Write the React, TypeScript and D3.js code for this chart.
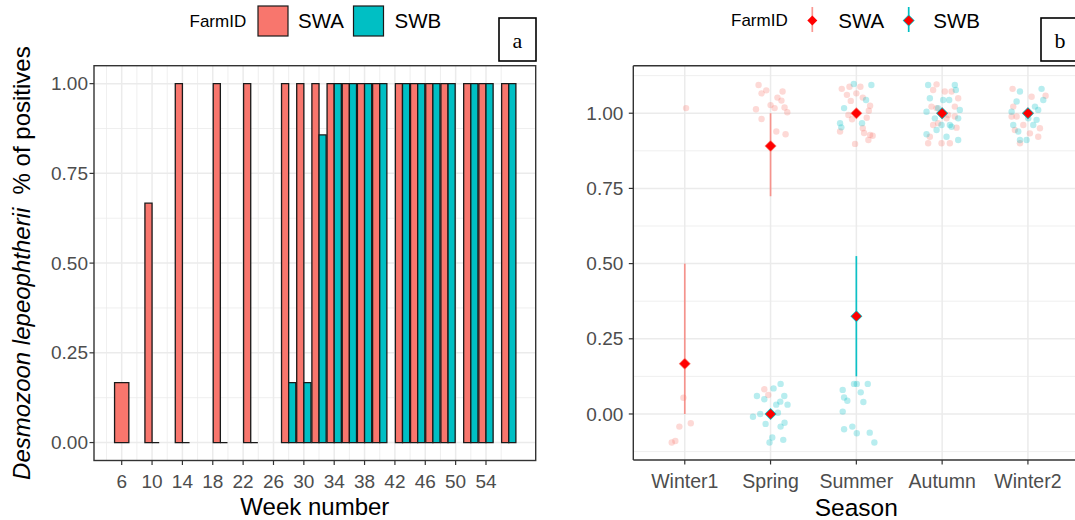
import * as d3 from "d3";

// ---- panel a: proportion positive per week
const weeks = [6, 10, 14, 19, 23, 28, 30, 32, 34, 36, 38, 40, 43, 45, 47, 49, 52, 54, 57];
const swaShare = [0.167, 0.667, 1, 1, 1, 1, 1, 1, 1, 1, 1, 1, 1, 1, 1, 1, 1, 1, 1];
const swbShare: (number | null)[] = [null, 0, 0, 0, 0, 0.167, 0.167, 0.857, 1, 1, 1, 1, 1, 1, 1, 1, 1, 1, 1];
const weekTicks = d3.range(6, 55, 4);
const weekMinor = d3.range(4, 59, 4);
const shareTicks = [0, 0.25, 0.5, 0.75, 1];

// ---- panel b: per-fish results by season, jittered [dx, y]
const seasons = ["Winter1", "Spring", "Summer", "Autumn", "Winter2"];

const winter1SWA = [[0.015, 1.017], [-0.016, 0.054], [-0.063, -0.042], [0.07, -0.031], [-0.152, -0.095], [-0.11, -0.09]];
const springSWA = [[-0.14, 1.094], [-0.05, 1.076], [-0.105, 1.066], [0.14, 1.072], [0.08, 1.052], [0.127, 1.042], [0, 1.027], [-0.17, 1.013], [0.163, 1.019], [0.195, 1.003], [0.047, 1.017], [-0.105, 0.981], [0.067, 0.939], [0.175, 0.93], [-0.073, 0.082], [-0.027, 0.063]];
const springSWB = [[0.035, 0.085], [0.117, 0.1], [-0.159, 0.06], [-0.073, 0.049], [0.16, 0.06], [0.113, 0.041], [0.066, 0.031], [0.198, 0.031], [-0.205, -0.009], [-0.12, 0], [0.086, 0.004], [0.163, -0.029], [-0.058, -0.033], [0.117, -0.042], [0.02, -0.078], [-0.012, -0.095], [0.148, -0.086]];
const summerSWA = [[-0.17, 1.081], [-0.08, 1.088], [0.047, 1.088], [0, 1.066], [-0.11, 1.061], [0.075, 1.052], [-0.065, 1.041], [0.16, 1.025], [0.145, 1.008], [-0.093, 0.994], [0.121, 0.985], [-0.05, 0.98], [0.075, 0.95], [-0.19, 0.939], [0.09, 0.934], [0.16, 0.928], [0.19, 0.925], [0.14, 0.911], [-0.015, 0.898]];
const summerSWB = [[-0.03, 1.097], [0.175, 1.094], [0.113, 1.044], [-0.143, 1.017], [-0.19, 0.967], [0.066, 0.967], [-0.175, 0.953], [-0.159, 0.08], [-0.027, 0.1], [0.005, 0.1], [0.133, 0.1], [-0.143, 0.055], [-0.105, 0.044], [0.051, 0.072], [0.082, 0.04], [-0.159, 0.008], [-0.143, -0.051], [-0.047, -0.042], [0.005, -0.064], [0.156, -0.062], [0.21, -0.095]];
const autumnSWA = [[-0.065, 1.096], [-0.105, 1.077], [0.031, 1.072], [0.11, 1.072], [0.187, 1.05], [-0.124, 1.022], [-0.065, 1.017], [0.148, 1.022], [0.051, 0.983], [-0.105, 0.961], [-0.047, 0.967], [0.168, 0.952], [-0.143, 0.922], [-0.163, 0.9], [-0.007, 0.9], [0.09, 0.9], [0.07, 0.994], [0.148, 0.989]];
const autumnSWB = [[-0.163, 1.094], [0.148, 1.094], [0.16, 1.077], [-0.143, 1.05], [0.082, 1.044], [-0.182, 1.005], [0.206, 1.011], [-0.085, 0.983], [0.187, 0.983], [0.09, 0.961], [-0.007, 0.961], [-0.182, 0.93], [-0.065, 0.944], [0.051, 0.922], [0.187, 0.911], [0.012, 1.044], [-0.047, 1.017], [0.11, 0.955]];
const winter2SWA = [[-0.179, 1.081], [0.043, 1.055], [0.206, 1.058], [-0.171, 1.022], [-0.132, 0.989], [-0.054, 0.961], [0.14, 0.95], [-0.152, 0.944], [0.023, 0.933], [0.12, 0.922], [-0.093, 0.9], [-0.19, 0.989]];
const winter2SWB = [[-0.093, 1.072], [0.159, 1.081], [0.179, 1.044], [-0.132, 1.039], [0.082, 1.022], [-0.19, 1.005], [0.004, 0.983], [0.101, 0.978], [-0.171, 0.961], [-0.113, 0.939], [-0.016, 0.911], [0.062, 0.961], [0.12, 1.011], [-0.093, 0.911]];

// means with interval: season, farm, mean, low, high
const meanSeason = ["Winter1", "Spring", "Summer", "Autumn", "Winter2", "Spring", "Summer", "Autumn", "Winter2"];
const meanFarm = ["SWA", "SWA", "SWA", "SWA", "SWA", "SWB", "SWB", "SWB", "SWB"];
const meanValue = [0.167, 0.891, 1, 1, 1, 0, 0.325, 1, 1];
const meanLow = [0, 0.724, 1, 1, 1, 0, 0.125, 1, 1];
const meanHigh = [0.5, 1, 1, 1, 1, 0, 0.525, 1, 1];

const red = "#F8766D";
const teal = "#00BFC4";
const farmColor: Record<string, string> = { SWA: red, SWB: teal };
const font = "Liberation Sans, Arial, sans-serif";
const tickCol = "#4D4D4D";
const grid = "#EBEBEB";

const diamond = (cx: number, cy: number, r: number) =>
  `M${cx},${cy - r}L${cx + r},${cy}L${cx},${cy + r}L${cx - r},${cy}Z`;

function PanelA() {
  const L = 94, R = 535.7, T = 65.7, B = 460.5;
  const x = d3.scaleLinear().domain([2.35, 60.55]).range([L, R]);
  const y = d3.scaleLinear().domain([-0.05, 1.05]).range([B, T]);
  const bw = 1.88;
  const bars: { x0: number; x1: number; v: number; c: string }[] = [];
  weeks.forEach((w, i) => {
    const vals = [
      { v: swaShare[i], c: red },
      { v: swbShare[i], c: teal },
    ].filter((d) => d.v !== null) as { v: number; c: string }[];
    const sub = bw / vals.length;
    vals.forEach((d, j) => {
      const a = w - bw / 2 + j * sub;
      bars.push({ x0: x(a), x1: x(a + sub), v: d.v, c: d.c });
    });
  });
  return (
    <g>
      {weekMinor.map((w) => (
        <line key={"mx" + w} x1={x(w)} x2={x(w)} y1={T} y2={B} stroke={grid} strokeWidth={0.8} />
      ))}
      {[0.125, 0.375, 0.625, 0.875].map((v) => (
        <line key={"my" + v} x1={L} x2={R} y1={y(v)} y2={y(v)} stroke={grid} strokeWidth={0.8} />
      ))}
      {weekTicks.map((w) => (
        <line key={"gx" + w} x1={x(w)} x2={x(w)} y1={T} y2={B} stroke={grid} strokeWidth={1.5} />
      ))}
      {shareTicks.map((v) => (
        <line key={"gy" + v} x1={L} x2={R} y1={y(v)} y2={y(v)} stroke={grid} strokeWidth={1.5} />
      ))}
      {bars.map((b, i) => (
        <path key={i} d={`M${b.x0},${y(0)}V${y(b.v)}H${b.x1}V${y(0)}Z`}
          fill={b.c} stroke="#1a1a1a" strokeWidth={1.3} />
      ))}
      <rect x={L} y={T} width={R - L} height={B - T} fill="none" stroke="#333" strokeWidth={1.4} />
      {shareTicks.map((v) => (
        <g key={"ty" + v}>
          <line x1={L - 4.5} x2={L} y1={y(v)} y2={y(v)} stroke="#333" strokeWidth={1.2} />
          <text x={L - 6} y={y(v)} dy="0.35em" textAnchor="end" fontSize={19} fill={tickCol}>
            {v.toFixed(2)}
          </text>
        </g>
      ))}
      {weekTicks.map((w) => (
        <g key={"tx" + w}>
          <line x1={x(w)} x2={x(w)} y1={B} y2={B + 4.5} stroke="#333" strokeWidth={1.2} />
          <text x={x(w)} y={481} dy="0.35em" textAnchor="middle" fontSize={19} fill={tickCol}>
            {w}
          </text>
        </g>
      ))}
      <text x={(L + R) / 2} y={507} dy="0.35em" textAnchor="middle" fontSize={24} fill="#000">
        Week number
      </text>
      <text transform={`translate(22,${(T + B) / 2}) rotate(-90)`} dy="0.35em" textAnchor="middle"
        fontSize={24} fill="#000" style={{ whiteSpace: "pre" }}>
        <tspan fontStyle="italic">Desmozoon lepeophtherii</tspan>
        <tspan>{"  % of positives"}</tspan>
      </text>
      {/* legend */}
      <text x={189.5} y={21} dy="0.35em" fontSize={17} fill="#000">FarmID</text>
      <rect x={258} y={6} width={30} height={30} fill={red} stroke="#1a1a1a" strokeWidth={1.2} />
      <text x={298} y={21} dy="0.35em" fontSize={20.5} fill="#000">SWA</text>
      <rect x={353.5} y={6} width={30} height={30} fill={teal} stroke="#1a1a1a" strokeWidth={1.2} />
      <text x={394.5} y={21} dy="0.35em" fontSize={20.5} fill="#000">SWB</text>
      <rect x={499} y={18} width={37} height={43} fill="#fff" stroke="#000" strokeWidth={1.6} />
      <text x={517.5} y={40} dy="0.35em" textAnchor="middle" fontSize={22}
        fontFamily="Liberation Serif, Times New Roman, serif">a</text>
    </g>
  );
}

function PanelB() {
  const L = 633.3, R = 1079.4, T = 65.7, B = 460;
  const x = d3.scalePoint<string>().domain(seasons).range([L, R]).padding(0.6);
  const step = x.step();
  const y = d3.scaleLinear().domain([-0.153, 1.158]).range([B, T]);
  const groups: [string, string, number[][]][] = [
    ["Winter1", "SWA", winter1SWA],
    ["Spring", "SWA", springSWA],
    ["Summer", "SWA", summerSWA],
    ["Autumn", "SWA", autumnSWA],
    ["Winter2", "SWA", winter2SWA],
    ["Spring", "SWB", springSWB],
    ["Summer", "SWB", summerSWB],
    ["Autumn", "SWB", autumnSWB],
    ["Winter2", "SWB", winter2SWB],
  ];
  return (
    <g>
      {[-0.125, 0.125, 0.375, 0.625, 0.875, 1.125].map((v) => (
        <line key={"my" + v} x1={L} x2={R} y1={y(v)} y2={y(v)} stroke={grid} strokeWidth={0.8} />
      ))}
      {seasons.map((s) => (
        <line key={"gx" + s} x1={x(s)} x2={x(s)} y1={T} y2={B} stroke={grid} strokeWidth={1.5} />
      ))}
      {shareTicks.map((v) => (
        <line key={"gy" + v} x1={L} x2={R} y1={y(v)} y2={y(v)} stroke={grid} strokeWidth={1.5} />
      ))}
      {groups.map(([s, f, pts]) =>
        pts.map((p, i) => (
          <circle key={s + f + i} cx={(x(s) as number) + p[0] * step} cy={y(p[1])} r={3.2}
            fill={farmColor[f]} fillOpacity={0.28} />
        ))
      )}
      {meanValue.map((m, i) => {
        const cx = x(meanSeason[i]) as number;
        const c = farmColor[meanFarm[i]];
        return (
          <g key={"m" + i}>
            <line x1={cx} x2={cx} y1={y(meanLow[i])} y2={y(meanHigh[i])} stroke={c}
              strokeOpacity={meanFarm[i] === "SWA" ? 0.75 : 0.95} strokeWidth={1.7} />
            <path d={diamond(cx, y(m), 6)} fill={c} />
            <path d={diamond(cx, y(m), 5)} fill="#FF0000" />
          </g>
        );
      })}
      <line x1={L} x2={L} y1={T} y2={B} stroke="#333" strokeWidth={1.4} />
      <line x1={L} x2={R} y1={T} y2={T} stroke="#333" strokeWidth={1.4} />
      <line x1={L} x2={R} y1={B} y2={B} stroke="#333" strokeWidth={1.4} />
      {shareTicks.map((v) => (
        <g key={"ty" + v}>
          <line x1={L - 4.5} x2={L} y1={y(v)} y2={y(v)} stroke="#333" strokeWidth={1.2} />
          <text x={L - 10} y={y(v)} dy="0.35em" textAnchor="end" fontSize={19} fill={tickCol}>
            {v.toFixed(2)}
          </text>
        </g>
      ))}
      {seasons.map((s) => (
        <g key={"tx" + s}>
          <line x1={x(s)} x2={x(s)} y1={B} y2={B + 4.5} stroke="#333" strokeWidth={1.2} />
          <text x={x(s)} y={481} dy="0.35em" textAnchor="middle" fontSize={19.5} fill={tickCol}>
            {s}
          </text>
        </g>
      ))}
      <text x={(L + R) / 2} y={507} dy="0.35em" textAnchor="middle" fontSize={24.5} fill="#000">
        Season
      </text>
      {/* legend */}
      <text x={731} y={20.5} dy="0.35em" fontSize={17} fill="#000">FarmID</text>
      <line x1={812.3} x2={812.3} y1={7} y2={32} stroke={red} strokeOpacity={0.75} strokeWidth={1.7} />
      <path d={diamond(812.3, 20.5, 5)} fill="#FF0000" />
      <text x={838.3} y={20.5} dy="0.35em" fontSize={20.5} fill="#000">SWA</text>
      <line x1={908.7} x2={908.7} y1={7} y2={32} stroke={teal} strokeWidth={1.7} />
      <path d={diamond(908.7, 20.5, 6)} fill={teal} />
      <path d={diamond(908.7, 20.5, 5)} fill="#FF0000" />
      <text x={933.3} y={20.5} dy="0.35em" fontSize={20.5} fill="#000">SWB</text>
      <rect x={1041} y={18} width={40} height={43} fill="#fff" stroke="#000" strokeWidth={1.6} />
      <text x={1060} y={40} dy="0.35em" textAnchor="middle" fontSize={22}
        fontFamily="Liberation Serif, Times New Roman, serif">b</text>
    </g>
  );
}

export default function App() {
  return (
    <svg width={1075} height={520} viewBox="0 0 1075 520"
      style={{ position: "absolute", left: 0, top: 0, background: "#fff" }}
      fontFamily={font}>
      <rect width={1075} height={520} fill="#fff" />
      <PanelA />
      <PanelB />
    </svg>
  );
}
